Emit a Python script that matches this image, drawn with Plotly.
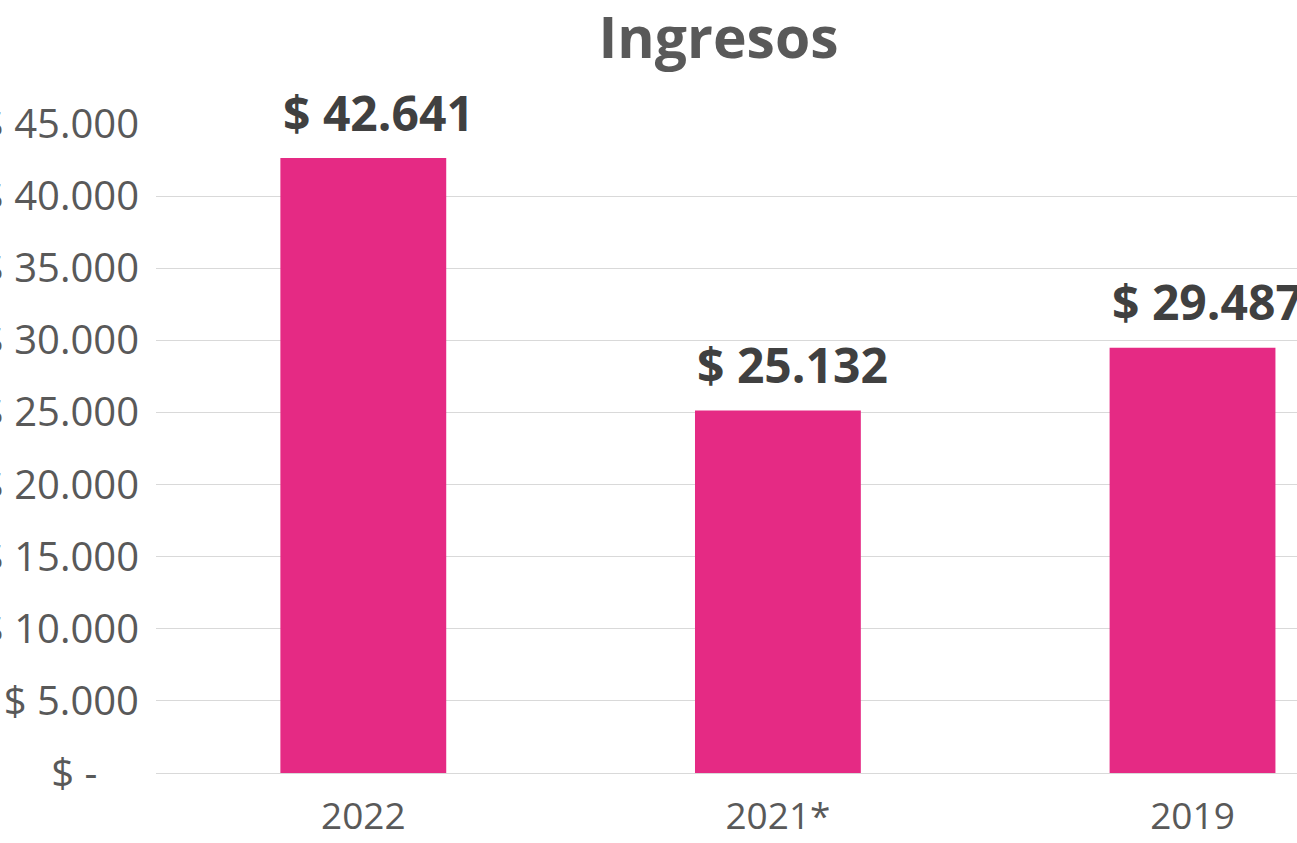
import plotly.graph_objects as go

# ---- data ----
categories = ["2022", "2021*", "2019"]
values = [42641, 25132, 29487]
y_tickvals = [0, 5000, 10000, 15000, 20000, 25000, 30000, 35000, 40000, 45000]
y_ticktext = ["$ -\u00a0\u00a0\u00a0\u00a0", "$ 5.000", "$ 10.000", "$ 15.000", "$ 20.000",
              "$ 25.000", "$ 30.000", "$ 35.000", "$ 40.000", "$ 45.000"]
title_text = "Ingresos"

def fmt(v):
    return "$ " + f"{v:,}".replace(",", ".")

W, H = 1297, 843
FONT = "Open Sans"
BAR = "#E52A84"
GRID = "#D9D9D9"

fig = go.Figure()
fig.add_trace(go.Bar(
    x=categories, y=values, width=0.4,
    marker=dict(color=BAR, line=dict(width=0)),
    hoverinfo="skip",
))

for i, v in enumerate(values):
    fig.add_annotation(
        x=i, y=v, xref="x", yref="y", text="<b>" + fmt(v) + "</b>",
        showarrow=False, xanchor="center", yanchor="middle",
        xshift=15, yshift=46,
        font=dict(family=FONT, size=48, color="#404040"),
    )

fig.update_layout(
    template="none",
    width=W, height=H,
    margin=dict(l=156, r=0, t=124, b=70, pad=0),
    paper_bgcolor="white", plot_bgcolor="white",
    showlegend=False,
    title=dict(
        text="<b>" + title_text + "</b>",
        xref="container", x=718.5 / W, xanchor="center",
        yref="container", y=1 - 38 / H, yanchor="middle",
        font=dict(family=FONT, size=57, color="#595959"),
    ),
)

fig.update_xaxes(
    type="category", range=[-0.5, 2.252], automargin=False,
    showgrid=False, zeroline=False, showline=False, ticks="",
    tickfont=dict(family=FONT, size=37, color="#595959"),
    ticklabelstandoff=18,
)
fig.update_yaxes(
    range=[0, 45000], automargin=False,
    tickmode="array", tickvals=y_tickvals, ticktext=y_ticktext,
    showgrid=True, gridcolor=GRID, gridwidth=1,
    zeroline=True, zerolinecolor=GRID, zerolinewidth=1,
    showline=False, ticks="",
    tickfont=dict(family=FONT, size=40, color="#595959"),
    ticklabelstandoff=16,
)

fig.write_html(
    "out.html",
    config={"displayModeBar": False},
    post_script="document.body.style.margin='0px';document.body.style.overflow='hidden';",
)
